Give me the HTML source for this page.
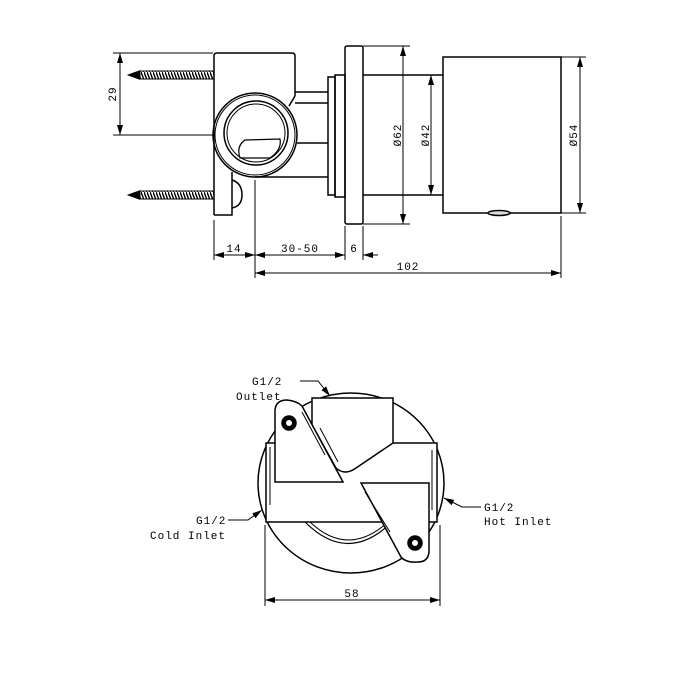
<!DOCTYPE html>
<html><head><meta charset="utf-8"><style>
html,body{margin:0;padding:0;background:#fff;}
svg{display:block;}
text{font-family:"Liberation Mono",monospace;font-size:11px;fill:#000;letter-spacing:1px;}
</style></head><body>
<svg width="700" height="700" viewBox="0 0 700 700" xmlns="http://www.w3.org/2000/svg">
<defs>
<marker id="a" viewBox="0 0 10 6" refX="10" refY="3" markerWidth="10" markerHeight="6" orient="auto-start-reverse" markerUnits="userSpaceOnUse"><path d="M0,0 L10,3 L0,6 z" fill="#000"/></marker>
<pattern id="thr" width="3" height="8" patternUnits="userSpaceOnUse"><path d="M0,0 L3,8" stroke="#000" stroke-width="1.4"/></pattern>
</defs>
<g fill="none" stroke="#000" stroke-width="1.5">
<rect x="140" y="71" width="74" height="8" fill="url(#thr)" stroke="#000" stroke-width="1"/>
<path d="M140,71 L129,75 L140,79" fill="#000"/>
<rect x="140" y="191" width="74" height="8" fill="url(#thr)" stroke="#000" stroke-width="1"/>
<path d="M140,191 L129,195 L140,199" fill="#000"/>
<path d="M214,215 L214,56 Q214,53 217,53 L292,53 Q295,53 295,56 L295,96"/>
<path d="M214,215 L232,215 L232,172"/>
<path d="M232,180 Q242,183 242,195 Q242,206 232,208"/>
<path d="M295,96 L289,106"/>
<path d="M295,92 L328,92 M295,103 L328,103 M297,143 L328,143 M255,177 L328,177"/>
<circle cx="255" cy="135" r="42"/>
<circle cx="255" cy="135" r="40" stroke-width="1"/>
<circle cx="256" cy="133" r="32"/>
<circle cx="256" cy="133" r="29" stroke-width="1"/>
<path d="M240,158 Q236,146 245,140 L280,139 Q282,150 270,158 Z" stroke-width="1.2"/>
<rect x="328" y="77" width="7" height="118"/>
<rect x="335" y="75" width="10" height="122"/>
<rect x="345" y="46" width="18" height="178" rx="2"/>
<path d="M363,75 L443,75 M363,195 L443,195"/>
<rect x="443" y="57" width="118" height="156"/>
<ellipse cx="499" cy="213" rx="11" ry="2.5" fill="#ddd"/>
</g>
<g fill="none" stroke="#000" stroke-width="1">
<path d="M113,53 L213,53 M113,135 L213,135"/>
<path d="M120,53 L120,135" marker-start="url(#a)" marker-end="url(#a)"/>
<path d="M363,46 L410,46 M363,224 L410,224"/>
<path d="M403,46 L403,224" marker-start="url(#a)" marker-end="url(#a)"/>
<path d="M431,75 L431,195" marker-start="url(#a)" marker-end="url(#a)"/>
<path d="M561,57 L586,57 M561,213 L586,213"/>
<path d="M580,57 L580,213" marker-start="url(#a)" marker-end="url(#a)"/>
<path d="M214,220 L214,260 M255,180 L255,278 M345,226 L345,260 M363,226 L363,260 M561,216 L561,278"/>
<path d="M214,255 L255,255" marker-start="url(#a)" marker-end="url(#a)"/>
<path d="M255,255 L345,255" marker-start="url(#a)" marker-end="url(#a)"/>
<path d="M378,255 L363,255" marker-end="url(#a)"/>
<path d="M255,273 L561,273" marker-start="url(#a)" marker-end="url(#a)"/>
</g>
<text x="113" y="94" transform="rotate(-90 113 94)" text-anchor="middle" dominant-baseline="middle">29</text>
<text x="398" y="135" transform="rotate(-90 398 135)" text-anchor="middle" dominant-baseline="middle">Ø62</text>
<text x="426" y="135" transform="rotate(-90 426 135)" text-anchor="middle" dominant-baseline="middle">Ø42</text>
<text x="574" y="135" transform="rotate(-90 574 135)" text-anchor="middle" dominant-baseline="middle">Ø54</text>
<text x="234" y="252" text-anchor="middle">14</text>
<text x="300" y="252" text-anchor="middle">30-50</text>
<text x="354" y="252" text-anchor="middle">6</text>
<text x="408" y="270" text-anchor="middle">102</text>

<g fill="none" stroke="#000" stroke-width="1.5">
<ellipse cx="351" cy="483" rx="93" ry="90"/>
<rect x="266" y="443" width="171" height="79" fill="#fff"/>
<path d="M312,443 L312,398 L393,398 L393,443 L356,468 Q345,476 336,468 L316,432 L312,432 Z" fill="#fff"/>
<path d="M320,428 L338,462" stroke-width="1"/>
<path d="M270,447 L270,505 M432,450 L432,510" stroke-width="1"/>
<path d="M305,522 Q348,565 392,522" stroke-width="1.2"/>
<path d="M310,522 Q348,558 388,522" stroke-width="1"/>
<path d="M275,482 L275,410 Q276,400 287,400 Q297,401 302,406 L343,482 Z" fill="#fff"/>
<path d="M302,412 L325,455" stroke-width="1"/>
<circle cx="289" cy="423" r="7" fill="#000"/>
<circle cx="289" cy="423" r="3" fill="#fff" stroke="none"/>
<path d="M361,483 L429,483 L429,552 Q428,562 418,562 Q406,563 401,557 Z" fill="#fff"/>
<path d="M365,492 L390,532" stroke-width="1"/>
<circle cx="415" cy="543" r="7" fill="#000"/>
<circle cx="415" cy="543" r="3" fill="#fff" stroke="none"/>
</g>
<g fill="none" stroke="#000" stroke-width="1">
<path d="M300,381 L318,381 L330,396" marker-end="url(#a)"/>
<path d="M228,520 L248,520 L262,510" marker-end="url(#a)"/>
<path d="M481,507 L462,507 L444,498" marker-end="url(#a)"/>
<path d="M265,525 L265,606 M440,525 L440,606"/>
<path d="M265,600 L440,600" marker-start="url(#a)" marker-end="url(#a)"/>
</g>
<text x="252" y="385">G1/2</text>
<text x="236" y="400">Outlet</text>
<text x="196" y="524">G1/2</text>
<text x="150" y="539">Cold Inlet</text>
<text x="484" y="511">G1/2</text>
<text x="484" y="525">Hot Inlet</text>
<text x="352" y="597" text-anchor="middle">58</text>
</svg>
</body></html>
